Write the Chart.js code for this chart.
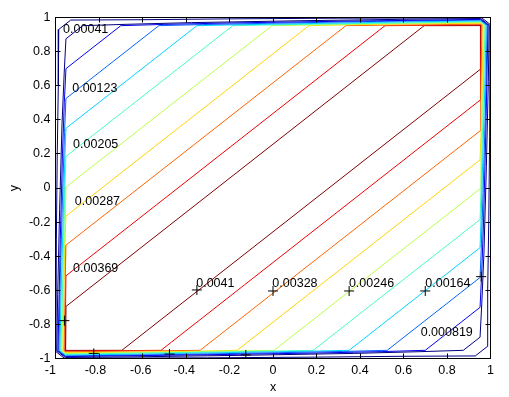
<!DOCTYPE html>
<html>
<head>
<meta charset="UTF-8">
<title>contour</title>
<script src="https://cdn.jsdelivr.net/npm/chart.js"></script>
<style>
  body { margin: 0; background: #fff; }
  canvas { display: block; }
</style>
</head>
<body>
<canvas id="plot" width="509" height="397"></canvas>
<script>
// axis ticks
const xTicks = [-1, -0.8, -0.6, -0.4, -0.2, 0, 0.2, 0.4, 0.6, 0.8, 1];
const xTickLabels = ['-1   ', '-0.8  ', '-0.6 ', '-0.4 ', '-0.2', '0', '0.2', '0.4', '0.6', '0.8', '1'];
const yTicks = [-1, -0.8, -0.6, -0.4, -0.2, 0, 0.2, 0.4, 0.6, 0.8, 1];
const yTickLabels = ['-1', '-0.8', '-0.6', '-0.4', '-0.2', '0', '0.2', '0.4', '0.6', '0.8', '1'];

// contour paths, [x, y] pairs, outermost first
const levOuter = [[-0.93,0.985],[-0.985,0.93],[-0.987,0.6],[-0.992,0.2],[-0.996,-0.3],[-0.998,-0.96],
  [-0.96,-0.998],[-0.3,-0.996],[0.2,-0.992],[0.6,-0.987],[0.93,-0.985],
  [0.985,-0.93],[0.987,-0.6],[0.992,-0.2],[0.996,0.3],[0.998,0.96],
  [0.96,0.998],[0.3,0.996],[-0.2,0.992],[-0.6,0.987],[-0.93,0.985]];
const lev1 = [[-0.875,0.952],[-0.952,0.875],[-0.96,0.675],[-0.97,0.375],[-0.981,-0.125],[-0.99,-0.625],[-0.994,-0.955],
  [-0.955,-0.994],[-0.625,-0.99],[-0.125,-0.981],[0.375,-0.97],[0.675,-0.96],[0.875,-0.952],
  [0.952,-0.875],[0.96,-0.675],[0.97,-0.375],[0.981,0.125],[0.99,0.625],[0.994,0.955],
  [0.955,0.994],[0.625,0.99],[0.125,0.981],[-0.375,0.97],[-0.675,0.96],[-0.875,0.952]];
const lev2 = [[-0.70,0.952],[-0.952,0.70],[-0.9595,0.50],[-0.968,0.20],[-0.978,-0.30],[-0.986,-0.80],[-0.989,-0.955],
  [-0.955,-0.989],[-0.80,-0.986],[-0.30,-0.978],[0.20,-0.968],[0.50,-0.9595],[0.70,-0.952],
  [0.952,-0.70],[0.9595,-0.50],[0.968,-0.20],[0.978,0.30],[0.986,0.80],[0.989,0.955],
  [0.955,0.989],[0.80,0.986],[0.30,0.978],[-0.20,0.968],[-0.50,0.9595],[-0.70,0.952]];
const lev3 = [[-0.525,0.952],[-0.952,0.525],[-0.9585,0.325],[-0.966,0.025],[-0.977,-0.475],[-0.985,-0.955],
  [-0.955,-0.985],[-0.475,-0.977],[0.025,-0.966],[0.325,-0.9585],[0.525,-0.952],
  [0.952,-0.525],[0.9585,-0.325],[0.966,-0.025],[0.977,0.475],[0.985,0.955],
  [0.955,0.985],[0.475,0.977],[-0.025,0.966],[-0.325,0.9585],[-0.525,0.952]];
const lev4 = [[-0.35,0.952],[-0.952,0.35],[-0.9576,0.15],[-0.964,-0.15],[-0.975,-0.65],[-0.98,-0.955],
  [-0.955,-0.98],[-0.65,-0.975],[-0.15,-0.964],[0.15,-0.9576],[0.35,-0.952],
  [0.952,-0.35],[0.9576,-0.15],[0.964,0.15],[0.975,0.65],[0.98,0.955],
  [0.955,0.98],[0.65,0.975],[0.15,0.964],[-0.15,0.9576],[-0.35,0.952]];
const lev5 = [[-0.185,0.952],[-0.952,0.185],[-0.957,-0.015],[-0.963,-0.315],[-0.972,-0.815],[-0.9755,-0.955],
  [-0.955,-0.9755],[-0.815,-0.972],[-0.315,-0.963],[-0.015,-0.957],[0.185,-0.952],
  [0.952,-0.185],[0.957,0.015],[0.963,0.315],[0.972,0.815],[0.9755,0.955],
  [0.955,0.9755],[0.815,0.972],[0.315,0.963],[0.015,0.957],[-0.185,0.952]];
const lev6 = [[-0.005,0.952],[-0.952,0.005],[-0.956,-0.195],[-0.963,-0.495],[-0.971,-0.955],
  [-0.955,-0.971],[-0.495,-0.963],[-0.195,-0.956],[0.005,-0.952],
  [0.952,-0.005],[0.956,0.195],[0.963,0.495],[0.971,0.955],
  [0.955,0.971],[0.495,0.963],[0.195,0.956],[-0.005,0.952]];
const lev7 = [[0.165,0.952],[-0.952,-0.165],[-0.958,-0.365],[-0.963,-0.665],[-0.966,-0.955],
  [-0.955,-0.966],[-0.665,-0.963],[-0.365,-0.958],[-0.165,-0.952],
  [0.952,0.165],[0.958,0.365],[0.963,0.665],[0.966,0.955],
  [0.955,0.966],[0.665,0.963],[0.365,0.958],[0.165,0.952]];
const lev8 = [[0.335,0.952],[-0.952,-0.335],[-0.955,-0.535],[-0.959,-0.835],[-0.9615,-0.955],
  [-0.955,-0.9615],[-0.835,-0.959],[-0.535,-0.955],[-0.335,-0.952],
  [0.952,0.335],[0.955,0.535],[0.959,0.835],[0.9615,0.955],
  [0.955,0.9615],[0.835,0.959],[0.535,0.955],[0.335,0.952]];
const lev9 = [[0.515,0.952],[-0.952,-0.515],[-0.954,-0.715],[-0.957,-0.955],
  [-0.955,-0.957],[-0.715,-0.954],[-0.515,-0.952],
  [0.952,0.515],[0.954,0.715],[0.957,0.955],
  [0.955,0.957],[0.715,0.954],[0.515,0.952]];
const lev10 = [[0.695,0.952],[-0.952,-0.695],[-0.9525,-0.955],
  [-0.955,-0.9525],[-0.695,-0.952],
  [0.952,0.695],[0.9525,0.955],
  [0.955,0.9525],[0.695,0.952]];

const contours = [levOuter, lev1, lev2, lev3, lev4, lev5, lev6, lev7, lev8, lev9, lev10];
const levelColors = ['#000080', '#000080', '#0000f1', '#0063ff', '#00d4ff', '#47ffb8',
  '#b8ff47', '#ffd400', '#ff6300', '#f10000', '#800000'];

// clabel markers and texts
const plusX = [-0.350, 0.0, 0.350, 0.700, 0.957, -0.959, -0.824, -0.476, -0.125];
const plusY = [-0.598, -0.604, -0.604, -0.604, -0.520, -0.778, -0.970, -0.974, -0.979];
const labelText = ['0.00041', '0.00123', '0.00205', '0.00287', '0.00369', '0.0041', '0.00328', '0.00246', '0.00164', '0.000819'];
const labelX = [-0.965, -0.923, -0.919, -0.911, -0.919, -0.353, -0.003, 0.349, 0.700, 0.679];
const labelY = [0.909, 0.563, 0.235, -0.100, -0.493, -0.581, -0.581, -0.581, -0.581, -0.868];

const FONT = '"Liberation Sans", Arial, sans-serif';

const labelPlugin = {
  id: 'clabels',
  afterDatasetsDraw(chart) {
    const {ctx, scales: {x, y}} = chart;
    ctx.save();
    ctx.font = '12.5px ' + FONT;
    ctx.fillStyle = '#000';
    ctx.textAlign = 'left';
    ctx.textBaseline = 'alphabetic';
    labelText.forEach((t, i) => {
      ctx.fillText(t, x.getPixelForValue(labelX[i]), y.getPixelForValue(labelY[i]));
    });
    ctx.restore();
  }
};

// matlab style box with inward ticks on all sides
const boxPlugin = {
  id: 'box',
  afterDraw(chart) {
    const {ctx, chartArea: a, scales: {x, y}} = chart;
    ctx.save();
    ctx.strokeStyle = '#000';
    ctx.lineWidth = 1;
    ctx.strokeRect(a.left, a.top, a.right - a.left, a.bottom - a.top);
    ctx.beginPath();
    xTicks.forEach(v => {
      const px = Math.round(x.getPixelForValue(v) - 0.5) + 0.5;
      ctx.moveTo(px, a.bottom); ctx.lineTo(px, a.bottom - 5);
      ctx.moveTo(px, a.top); ctx.lineTo(px, a.top + 5);
    });
    yTicks.forEach(v => {
      const py = Math.round(y.getPixelForValue(v) - 0.5) + 0.5;
      ctx.moveTo(a.left, py); ctx.lineTo(a.left + 5, py);
      ctx.moveTo(a.right, py); ctx.lineTo(a.right - 5, py);
    });
    ctx.stroke();
    ctx.restore();
  }
};

const datasets = [{
  data: plusX.map((v, i) => ({x: v, y: plusY[i]})),
  pointStyle: 'cross',
  pointRadius: 5,
  borderColor: '#000',
  borderWidth: 1,
  showLine: false,
  order: 0
}];
contours.forEach((pts, i) => {
  datasets.push({
    data: pts.map(p => ({x: p[0], y: p[1]})),
    showLine: true,
    borderColor: levelColors[i],
    borderWidth: 1,
    pointRadius: 0,
    fill: false,
    tension: 0,
    order: 1
  });
});

const tickFont = {family: FONT, size: 12.5};

new Chart(document.getElementById('plot'), {
  type: 'scatter',
  data: {datasets: datasets},
  options: {
    responsive: false,
    animation: false,
    events: [],
    layout: {padding: {top: 17.5, right: 18.5, left: 0, bottom: 0}},
    plugins: {legend: {display: false}, tooltip: {enabled: false}},
    scales: {
      x: {
        type: 'linear', min: -1, max: 1,
        afterBuildTicks: s => { s.ticks = xTicks.map(v => ({value: v})); },
        afterFit: s => { s.height = 38.5; },
        grid: {display: false, drawTicks: false},
        border: {display: false},
        ticks: {color: '#000', font: tickFont, padding: 5, maxRotation: 0, autoSkip: false,
          callback: (v, i) => xTickLabels[i]},
        title: {display: true, text: 'x', color: '#000', font: tickFont, padding: {top: 0, bottom: 2}}
      },
      y: {
        type: 'linear', min: -1, max: 1,
        afterBuildTicks: s => { s.ticks = yTicks.map(v => ({value: v})); },
        afterFit: s => { s.width = 55.5; },
        grid: {display: false, drawTicks: false},
        border: {display: false},
        ticks: {color: '#000', font: tickFont, padding: 5, autoSkip: false,
          callback: (v, i) => yTickLabels[i]},
        title: {display: true, text: 'y', color: '#000', font: tickFont, padding: {top: 7, bottom: 0}}
      }
    }
  },
  plugins: [labelPlugin, boxPlugin]
});
</script>
</body>
</html>
